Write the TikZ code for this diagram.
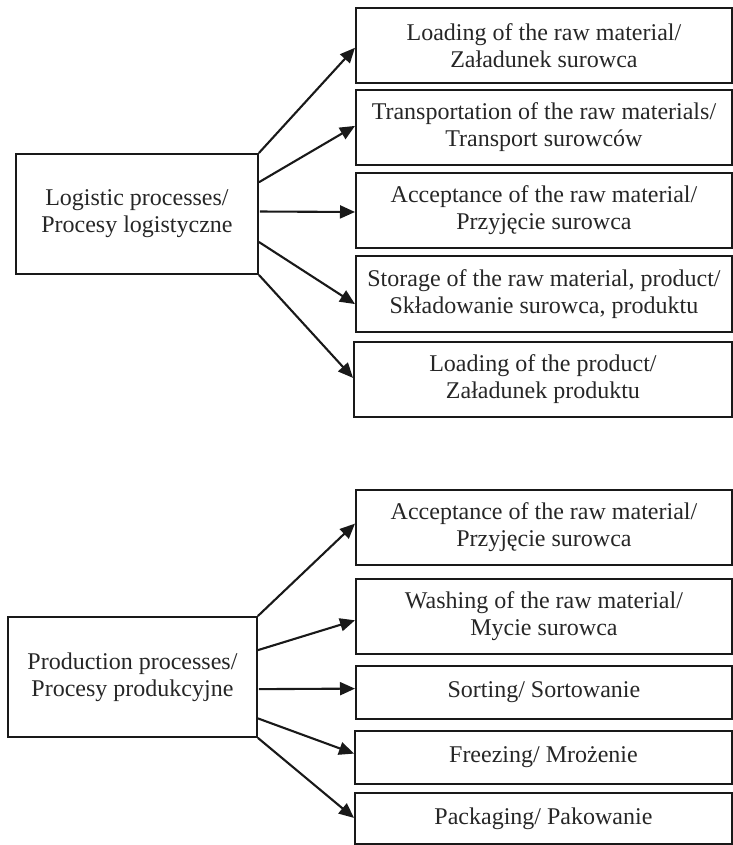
\documentclass[tikz,border=0pt]{standalone}
\usepackage{fontspec}
\setmainfont{Liberation Serif}
\usetikzlibrary{arrows.meta,calc}
\begin{document}
\begin{tikzpicture}[x=1pt,y=-1pt,
  box/.style={draw=black!90,line width=1.9pt,rectangle,inner sep=0pt,anchor=north west,
    align=center,font=\fontsize{24}{27}\selectfont,text=black!85},
  arr/.style={draw=black!90,line width=2.1pt,-{Triangle[length=15pt,width=13pt]}}]
\useasboundingbox (0,0) rectangle (732,845);
% top group
\node[box,minimum width=242pt,minimum height=120pt] (L) at (15,153) {Logistic processes/\\Procesy logistyczne};
\node[box,minimum width=376pt,minimum height=75pt] (b1) at (355,7) {Loading of the raw material/\\Załadunek surowca};
\node[box,minimum width=376pt,minimum height=75pt] (b2) at (355,89) {Transportation of the raw materials/\\Transport surowców};
\node[box,minimum width=376pt,minimum height=75pt] (b3) at (355,172) {Acceptance of the raw material/\\Przyjęcie surowca};
\node[box,minimum width=376pt,minimum height=76pt] (b4) at (355,255) {Storage of the raw material, product/\\Składowanie surowca, produktu};
\node[box,minimum width=378pt,minimum height=75pt] (b5) at (353,341) {Loading of the product/\\Załadunek produktu};
% bottom group
\node[box,minimum width=249pt,minimum height=120pt] (P) at (7,616) {Production processes/\\Procesy produkcyjne};
\node[box,minimum width=376pt,minimum height=75pt] (c1) at (355,489) {Acceptance of the raw material/\\Przyjęcie surowca};
\node[box,minimum width=376pt,minimum height=75pt] (c2) at (355,578) {Washing of the raw material/\\Mycie surowca};
\node[box,minimum width=376pt,minimum height=53pt] (c3) at (355,665) {Sorting/ Sortowanie};
\node[box,minimum width=377pt,minimum height=53pt] (c4) at (354,730) {Freezing/ Mrożenie};
\node[box,minimum width=377pt,minimum height=51pt] (c5) at (354,792) {Packaging/ Pakowanie};
% arrow sources and tips
\coordinate (ls2) at ($(L.north east)!0.24!(L.south east)$);
\coordinate (ls3) at ($(L.north east)!0.48!(L.south east)+(1,0)$);
\coordinate (ls4) at ($(L.north east)!0.73!(L.south east)$);
\coordinate (t1) at ($(b1.north west)!0.53!(b1.south west)$);
\coordinate (t2) at ($(b2.north west)!0.48!(b2.south west)$);
\coordinate (t3) at ($(b3.north west)!0.52!(b3.south west)$);
\coordinate (t4) at ($(b4.north west)!0.63!(b4.south west)$);
\coordinate (t5) at ($(b5.north west)!0.48!(b5.south west)$);
\draw[arr] (L.north east) -- (t1);
\draw[arr] (ls2) -- (t2);
\draw[arr] (ls3) -- (t3);
\draw[arr] (ls4) -- (t4);
\draw[arr] (L.south east) -- (t5);
\coordinate (ps2) at ($(P.north east)!0.28!(P.south east)$);
\coordinate (ps3) at ($(P.north east)!0.6!(P.south east)+(1,0)$);
\coordinate (ps4) at ($(P.north east)!0.84!(P.south east)$);
\coordinate (u1) at ($(c1.north west)!0.45!(c1.south west)$);
\coordinate (u2) at ($(c2.north west)!0.55!(c2.south west)$);
\coordinate (u3) at ($(c3.north west)!0.43!(c3.south west)$);
\coordinate (u4) at ($(c4.north west)!0.43!(c4.south west)$);
\coordinate (u5) at ($(c5.north west)!0.49!(c5.south west)$);
\draw[arr] (P.north east) -- (u1);
\draw[arr] (ps2) -- (u2);
\draw[arr] (ps3) -- (u3);
\draw[arr] (ps4) -- (u4);
\draw[arr] (P.south east) -- (u5);
\end{tikzpicture}
\end{document}
